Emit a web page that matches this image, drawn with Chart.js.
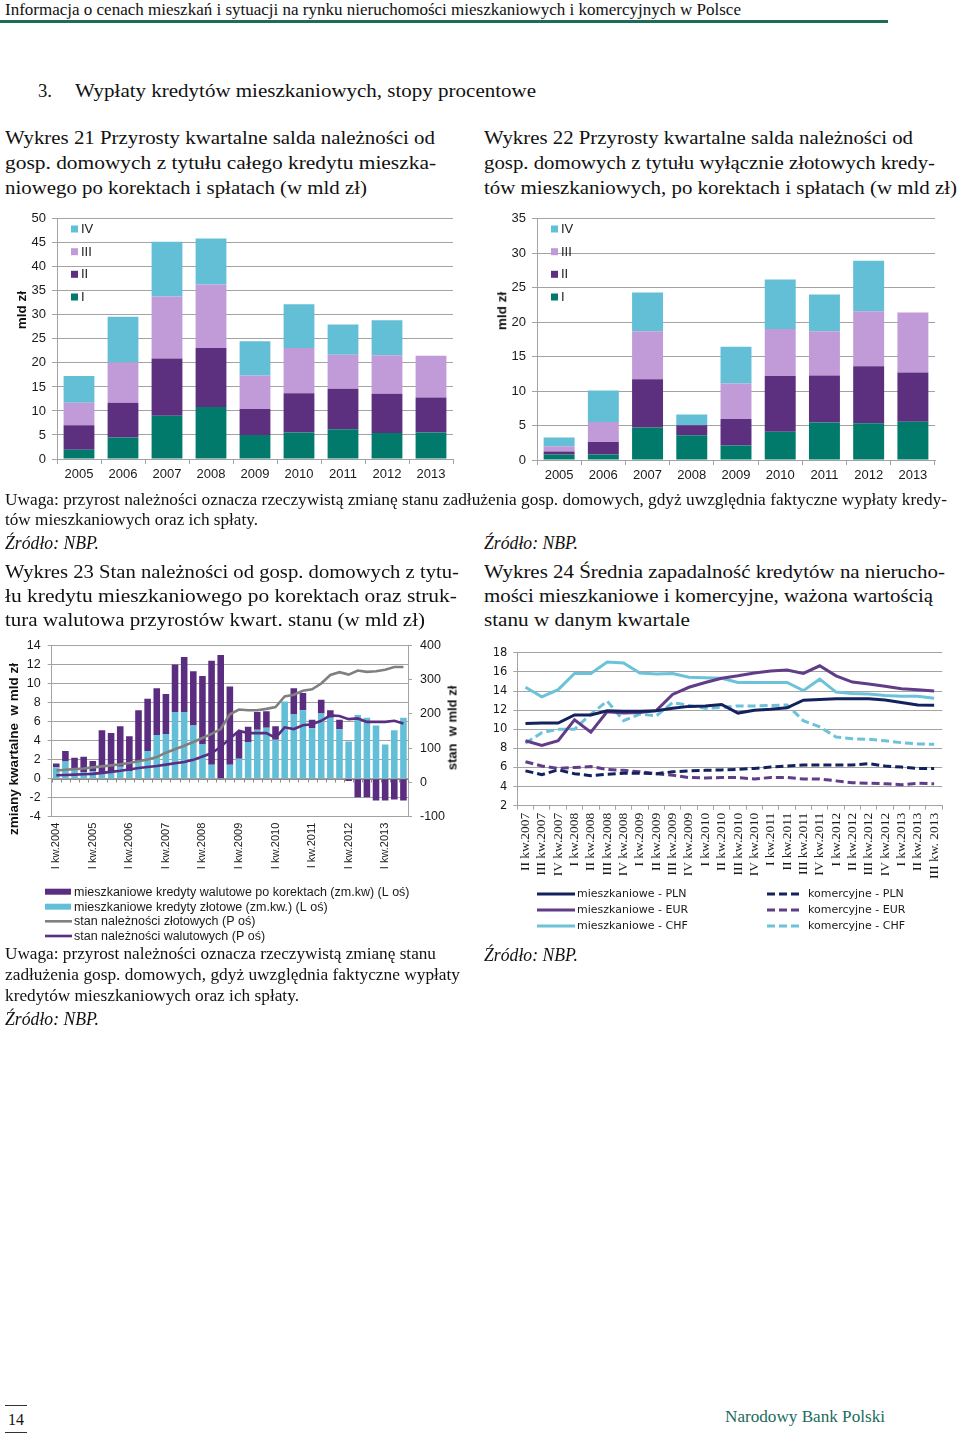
<!DOCTYPE html>
<html lang="pl"><head><meta charset="utf-8">
<title>Wykresy 21-24</title>
<script src="https://cdn.jsdelivr.net/npm/chart.js@4.4.1/dist/chart.umd.min.js"></script>
<style>
html,body{margin:0;padding:0;background:#fff}
body{position:relative;width:960px;height:1434px;overflow:hidden;font-family:"Liberation Serif","Times New Roman",serif;color:#111}
.t{position:absolute;white-space:nowrap;line-height:1;transform-origin:0 0}
.ax{position:absolute;white-space:nowrap;font-family:"Liberation Sans",Arial,sans-serif;font-weight:bold;color:#111;line-height:1;transform:translate(-50%,-50%) rotate(-90deg)}
canvas{position:absolute}
.rule{position:absolute;background:#1e6b5a}
</style></head>
<body>
<div class="rule" style="left:0;top:20px;width:888px;height:3px"></div>
<div class="rule" style="left:5px;top:1405px;width:22px;height:1px;background:#333"></div>
<div class="rule" style="left:5px;top:1432px;width:22px;height:1px;background:#333"></div>
<canvas id="c21" width="480" height="285" style="left:0;top:205px;width:480px;height:285px"></canvas>
<canvas id="c22" width="480" height="285" style="left:480px;top:205px;width:480px;height:285px"></canvas>
<canvas id="c23" width="460" height="320" style="left:0;top:630px;width:460px;height:320px"></canvas>
<canvas id="c24" width="480" height="300" style="left:480px;top:640px;width:480px;height:300px"></canvas>
<div class="ax" style="left:22px;top:310px;font-size:13.5px">mld zł</div>
<div class="ax" style="left:502px;top:311px;font-size:13.5px">mld zł</div>
<div class="ax" style="left:14px;top:749px;font-size:13.5px">zmiany kwartalne&nbsp; w mld zł</div>
<div class="ax" style="left:452px;top:728px;font-size:13px">stan&nbsp; w mld zł</div>
<script>
// ---------- DATA ----------
const years = ['2005','2006','2007','2008','2009','2010','2011','2012','2013'];
// Wykres 21 (whole mortgage credit), quarters I-IV, mld zł
const w21_I   = [1.9, 4.5, 9.0, 10.8, 5.0, 5.5, 6.2, 5.4, 5.5];
const w21_II  = [5.1, 7.2, 11.9, 12.3, 5.4, 8.2, 8.4, 8.2, 7.3];
const w21_III = [4.7, 8.4, 12.9, 13.2, 7.0, 9.4, 7.1, 8.0, 8.7];
const w21_IV  = [5.6, 9.5, 11.4, 9.6, 7.1, 9.1, 6.3, 7.3, null];
// Wykres 22 (PLN only)
const w22_I   = [0.8, 0.8, 4.7, 3.6, 2.1, 4.1, 5.45, 5.35, 5.55];
const w22_II  = [0.45, 1.8, 7.0, 1.45, 3.85, 8.1, 6.8, 8.25, 7.15];
const w22_III = [0.75, 2.9, 7.0, 0.0, 5.15, 6.8, 6.45, 8.0, 8.7];
const w22_IV  = [1.25, 4.6, 5.6, 1.55, 5.35, 7.2, 5.3, 7.3, null];
// Wykres 23
const quarters23 = [
 'I kw.2004','II kw.2004','III kw.2004','IV kw.2004',
 'I kw.2005','II kw.2005','III kw.2005','IV kw.2005',
 'I kw.2006','II kw.2006','III kw.2006','IV kw.2006',
 'I kw.2007','II kw.2007','III kw.2007','IV kw.2007',
 'I kw.2008','II kw.2008','III kw.2008','IV kw.2008',
 'I kw.2009','II kw.2009','III kw.2009','IV kw.2009',
 'I kw.2010','II kw.2010','III kw.2010','IV kw.2010',
 'I kw.2011','II kw.2011','III kw.2011','IV kw.2011',
 'I kw.2012','II kw.2012','III kw.2012','IV kw.2012',
 'I kw.2013','II kw.2013','III kw.2013'];
const w23_zmPLN = [1.2,1.8,1.0,0.7, 0.8,0.45,0.75,1.25, 0.8,1.8,2.9,4.6, 4.7,7.0,7.0,5.6,
                   3.6,1.45,0.0,1.45, 2.1,3.85,5.15,5.35, 4.1,8.1,6.8,7.2, 5.3,6.85,6.4,5.2,
                   3.9,6.7,6.4,5.6, 3.6,5.1,6.4];
const w23_zmFX  = [0.4,1.1,1.2,1.6, 1.05,4.65,4.05,4.25, 3.65,5.4,5.5,4.9, 4.2,5.0,5.8,5.7,
                   7.2,10.95,13.0,8.25, 2.8,1.6,1.85,1.75, 1.4,0.0,2.7,1.8, 0.9,1.45,0.8,1.0,
                   -0.25,-1.95,-1.95,-2.3, -2.3,-2.2,-2.3];
const w23_stanPLN = [35,37,39,41, 44,47,50,53, 57,62,67,74, 87,97,107,118,
                     130,142,156,199, 213,211,211,215, 220,251,256,268, 272,289,314,322,
                     315,327,323,325, 329,337,337];
const w23_stanFX  = [21,22,23,24, 25,28,31,34, 38,42,45,48, 52,56,60,66,
                     76,85,104,128, 151,144,144,144, 130,161,156,167, 170,180,196,194,
                     185,187,177,177, 177,180,172];
const ticks23L = {min:-4, max:14, step:2};
const ticks23R = {min:-100, max:400, step:100};
// Wykres 24
const quarters24 = ['II kw.2007','III kw.2007','IV kw.2007',
 'I kw.2008','II kw.2008','III kw.2008','IV kw.2008',
 'I kw.2009','II kw.2009','III kw.2009','IV kw.2009',
 'I kw.2010','II kw.2010','III kw.2010','IV kw.2010',
 'I kw.2011','II kw.2011','III kw.2011','IV kw.2011',
 'I kw.2012','II kw.2012','III kw.2012','IV kw.2012',
 'I kw.2013','II kw.2013','III kw. 2013'];
const m_PLN = [10.6,10.65,10.65,11.5,11.5,11.95,11.9,11.9,11.95,12.2,12.4,12.45,12.6,11.7,12.0,12.1,12.25,13.05,13.13,13.2,13.2,13.2,13.06,12.8,12.55,12.52];
const m_EUR = [8.8,8.3,8.8,11.0,9.7,11.85,11.7,11.75,11.95,13.65,14.4,14.9,15.35,15.6,15.9,16.1,16.2,15.85,16.65,15.6,14.95,14.75,14.5,14.25,14.15,14.0];
const m_CHF = [14.4,13.4,14.15,15.85,15.85,17.05,16.95,15.9,15.8,15.85,15.45,15.4,15.35,14.9,14.9,14.9,14.9,14.05,15.25,13.9,13.75,13.7,13.55,13.45,13.45,13.25];
const k_PLN = [5.65,5.25,5.75,5.35,5.15,5.3,5.4,5.4,5.35,5.55,5.65,5.7,5.75,5.8,5.9,6.05,6.15,6.25,6.25,6.25,6.25,6.4,6.15,6.05,5.9,5.9];
const k_EUR = [6.6,6.15,5.9,6.0,6.1,5.8,5.7,5.55,5.35,5.2,4.95,4.9,4.95,4.95,4.8,4.95,4.95,4.8,4.8,4.6,4.4,4.35,4.3,4.2,4.35,4.3];
const k_CHF = [8.55,9.65,10.0,10.0,11.6,12.95,10.9,11.6,11.4,12.8,12.5,12.2,12.3,12.45,12.45,12.5,12.55,10.9,10.25,9.2,9.0,8.95,8.8,8.6,8.47,8.43];

// ---------- PAGE TEXT ----------
const TEAL_TXT = '#1c6b5d';
const texts = [
 ['Informacja o cenach mieszkań i sytuacji na rynku nieruchomości mieszkaniowych i komercyjnych w Polsce',5,10,741,17,''],
 ['3.',38,91,52,19,''],
 ['Wypłaty kredytów mieszkaniowych, stopy procentowe',75,91,536,19,''],
 ['Wykres 21 Przyrosty kwartalne salda należności od',5,138,435,19,''],
 ['gosp. domowych z tytułu całego kredytu mieszka-',5,163,436,19,''],
 ['niowego po korektach i spłatach (w mld zł)',5,188,367,19,''],
 ['Wykres 22 Przyrosty kwartalne salda należności od',484,138,913,19,''],
 ['gosp. domowych z tytułu wyłącznie złotowych kredy-',484,163,935,19,''],
 ['tów mieszkaniowych, po korektach i spłatach (w mld zł)',484,188,957,19,''],
 ['Uwaga: przyrost należności oznacza rzeczywistą zmianę stanu zadłużenia gosp. domowych, gdyż uwzględnia faktyczne wypłaty kredy-',5,500,947,16,''],
 ['tów mieszkaniowych oraz ich spłaty.',5,520,258,16,''],
 ['Źródło: NBP.',5,543,99,18,'i'],
 ['Źródło: NBP.',484,543,578,18,'i'],
 ['Wykres 23 Stan należności od gosp. domowych z tytu-',5,572,459,19,''],
 ['łu kredytu mieszkaniowego po korektach oraz struk-',5,596,457,19,''],
 ['tura walutowa przyrostów kwart. stanu (w mld zł)',5,620,425,19,''],
 ['Wykres 24 Średnia zapadalność kredytów na nierucho-',484,572,945,19,''],
 ['mości mieszkaniowe i komercyjne, ważona wartością',484,596,933,19,''],
 ['stanu w danym kwartale',484,620,690,19,''],
 ['Uwaga: przyrost należności oznacza rzeczywistą zmianę stanu',5,954,436,17,''],
 ['zadłużenia gosp. domowych, gdyż uwzględnia faktyczne wypłaty',5,975,460,17,''],
 ['kredytów mieszkaniowych oraz ich spłaty.',5,996,299,17,''],
 ['Źródło: NBP.',5,1019,99,18,'i'],
 ['Źródło: NBP.',484,955,578,18,'i'],
 ['14',8,1420,24,17,''],
 ['Narodowy Bank Polski',725,1417,885,17,'g']
];
texts.forEach(([s,x,y,r,fs,st])=>{
  const d=document.createElement('div');
  d.className='t'; d.textContent=s;
  d.style.left=x+'px'; d.style.top=(y-fs*0.51)+'px'; d.style.fontSize=fs+'px';
  if(st==='i') d.style.fontStyle='italic';
  if(st==='g') d.style.color=TEAL_TXT;
  document.body.appendChild(d);
  const w=d.getBoundingClientRect().width;
  if(w>0) d.style.transform='scaleX('+((r-x)/w).toFixed(4)+')';
});

// ---------- CHARTS ----------
Chart.defaults.font.family='"Liberation Sans", Arial, sans-serif';
Chart.defaults.color='#1a1a1a';
const GRID='#a3a3a3';
const C_TEAL='#017a6c', C_PURP='#5d2f7f', C_LILAC='#c09bd7', C_SKY='#62bfd6';

const customLegend={
  id:'customLegend',
  afterDraw(chart,args,o){
    if(!o||!o.rows) return;
    const ctx=chart.ctx; ctx.save();
    ctx.font=o.font; ctx.textBaseline='middle'; ctx.textAlign='left';
    o.rows.forEach(r=>{
      const ds=chart.data.datasets[r.ds];
      if(r.shape==='box'){ ctx.fillStyle=ds.backgroundColor; ctx.fillRect(r.x,r.y-r.h/2,r.w,r.h); }
      else { ctx.strokeStyle=ds.borderColor; ctx.lineWidth=r.lw; ctx.setLineDash(ds.borderDash||[]);
        ctx.beginPath(); ctx.moveTo(r.x,r.y); ctx.lineTo(r.x+r.w,r.y); ctx.stroke(); ctx.setLineDash([]); }
      ctx.fillStyle=o.color||'#1a1a1a';
      ctx.fillText(ds.label,r.tx,r.y+0.5);
    });
    ctx.restore();
  }
};
const zeroAxis={
  id:'zeroAxis',
  beforeDatasetsDraw(chart,args,o){
    if(!o||!o.on) return;
    const ctx=chart.ctx, xs=chart.scales.x, a=chart.chartArea;
    const y=Math.round(chart.scales.y.getPixelForValue(0))+0.5;
    ctx.save(); ctx.strokeStyle=o.color; ctx.lineWidth=1; ctx.beginPath();
    ctx.moveTo(a.left,y); ctx.lineTo(a.right,y);
    const n=chart.data.labels.length;
    for(let i=0;i<=n;i++){
      const x=Math.round(i===0?a.left:(i===n?a.right:(xs.getPixelForValue(i-1)+xs.getPixelForValue(i))/2))+0.5;
      ctx.moveTo(x,y); ctx.lineTo(x,y+3);
    }
    ctx.stroke(); ctx.restore();
  }
};

function quarterBars(id, I, II, III, IV, ymax, padRight, xH){
  return new Chart(document.getElementById(id),{
    type:'bar',
    data:{labels:years,datasets:[
      {label:'I',data:I,backgroundColor:C_TEAL},
      {label:'II',data:II,backgroundColor:C_PURP},
      {label:'III',data:III,backgroundColor:C_LILAC},
      {label:'IV',data:IV,backgroundColor:C_SKY}
    ]},
    options:{
      responsive:false,animation:false,devicePixelRatio:1,
      layout:{padding:{top:12.7,right:padRight,left:0,bottom:0}},
      datasets:{bar:{barPercentage:0.7,categoryPercentage:1}},
      plugins:{legend:{display:false},tooltip:{enabled:false},
        customLegend:{font:'13px "Liberation Sans", Arial, sans-serif',rows:[
          {ds:3,shape:'box',x:71,y:24,w:7,h:7,tx:81},
          {ds:2,shape:'box',x:71,y:46.7,w:7,h:7,tx:81},
          {ds:1,shape:'box',x:71,y:69.3,w:7,h:7,tx:81},
          {ds:0,shape:'box',x:71,y:92,w:7,h:7,tx:81}]}},
      scales:{
        x:{stacked:true,offset:true,grid:{offset:true,drawOnChartArea:false,tickLength:5,color:GRID},
           border:{color:GRID},ticks:{font:{size:13},padding:3,color:'#1a1a1a'},
           afterFit:s=>{s.height=xH;}},
        y:{stacked:true,min:0,max:ymax,ticks:{stepSize:5,font:{size:13},padding:6,color:'#1a1a1a'},
           grid:{color:GRID,tickLength:5},border:{color:GRID},afterFit:s=>{s.width=57;}}
      }
    },
    plugins:[customLegend]
  });
}
quarterBars('c21',w21_I,w21_II,w21_III,w21_IV,50,27,31);
quarterBars('c22',w22_I,w22_II,w22_III,w22_IV,35,25,30);

new Chart(document.getElementById('c23'),{
  type:'bar',
  data:{labels:quarters23,datasets:[
    {type:'line',label:'stan należności złotowych (P oś)',data:w23_stanPLN,borderColor:'#808080',borderWidth:2.6,pointRadius:0,yAxisID:'y1',order:0},
    {type:'line',label:'stan należności walutowych (P oś)',data:w23_stanFX,borderColor:'#5b2d82',borderWidth:2.6,pointRadius:0,yAxisID:'y1',order:0},
    {type:'bar',label:'mieszkaniowe kredyty walutowe po korektach (zm.kw) (L oś)',data:w23_zmFX,backgroundColor:'#5b2d80',yAxisID:'y',order:2},
    {type:'bar',label:'mieszkaniowe kredyty złotowe (zm.kw.) (L oś)',data:w23_zmPLN,backgroundColor:'#63bfd8',yAxisID:'y',order:1}
  ]},
  options:{
    responsive:false,animation:false,devicePixelRatio:1,
    layout:{padding:{top:11,right:0,left:0,bottom:0}},
    datasets:{bar:{barPercentage:0.72,categoryPercentage:1}},
    plugins:{legend:{display:false},tooltip:{enabled:false},
      zeroAxis:{on:true,color:'#8a8a8a'},
      customLegend:{font:'12.5px "Liberation Sans", Arial, sans-serif',rows:[
        {ds:2,shape:'box',x:45,y:261.7,w:26,h:6,tx:74},
        {ds:3,shape:'box',x:45,y:276.7,w:26,h:6,tx:74},
        {ds:0,shape:'line',x:45,y:291.3,w:27,lw:2.6,tx:74},
        {ds:1,shape:'line',x:45,y:306,w:27,lw:2.6,tx:74}]}},
    scales:{
      x:{stacked:true,offset:true,grid:{offset:true,display:false,drawTicks:false},border:{display:false},
         ticks:{autoSkip:false,minRotation:90,maxRotation:90,font:{size:11},padding:6,color:'#1a1a1a',
           callback:function(v){const l=this.getLabelForValue(v);return l.startsWith('I kw.')?l:'';}},
         afterFit:s=>{s.height=133.3;}},
      y:{stacked:true,position:'left',min:ticks23L.min,max:ticks23L.max,
         ticks:{stepSize:ticks23L.step,font:{size:12.5},padding:7,color:'#1a1a1a'},
         grid:{color:GRID,tickLength:4},border:{color:GRID},afterFit:s=>{s.width=51.7;}},
      y1:{position:'right',min:ticks23R.min,max:ticks23R.max,
         ticks:{stepSize:ticks23R.step,font:{size:12.5},padding:8,color:'#1a1a1a'},
         grid:{drawOnChartArea:false,color:GRID,tickLength:4},border:{color:GRID},afterFit:s=>{s.width=52;}}
    }
  },
  plugins:[customLegend,zeroAxis]
});

const NAVY='#13225c', VIOL='#613c88', SKY2='#6cc2d8';
new Chart(document.getElementById('c24'),{
  type:'line',
  data:{labels:quarters24,datasets:[
    {label:'mieszkaniowe - PLN',data:m_PLN,borderColor:NAVY},
    {label:'mieszkaniowe - EUR',data:m_EUR,borderColor:VIOL},
    {label:'mieszkaniowe - CHF',data:m_CHF,borderColor:SKY2},
    {label:'komercyjne - PLN',data:k_PLN,borderColor:NAVY,borderDash:[8,4]},
    {label:'komercyjne - EUR',data:k_EUR,borderColor:VIOL,borderDash:[8,4]},
    {label:'komercyjne - CHF',data:k_CHF,borderColor:SKY2,borderDash:[8,4]}
  ]},
  options:{
    responsive:false,animation:false,devicePixelRatio:1,
    layout:{padding:{top:9,right:17.7,left:0,bottom:0}},
    elements:{line:{borderWidth:3,tension:0},point:{radius:0}},
    plugins:{legend:{display:false},tooltip:{enabled:false},
      customLegend:{font:'11px "DejaVu Sans", Verdana, sans-serif',rows:[
        {ds:0,shape:'line',x:57,y:254,w:38,lw:3,tx:97},
        {ds:1,shape:'line',x:57,y:270,w:38,lw:3,tx:97},
        {ds:2,shape:'line',x:57,y:286,w:38,lw:3,tx:97},
        {ds:3,shape:'line',x:287,y:254,w:34,lw:3,tx:328},
        {ds:4,shape:'line',x:287,y:270,w:34,lw:3,tx:328},
        {ds:5,shape:'line',x:287,y:286,w:34,lw:3,tx:328}]}},
    scales:{
      x:{offset:true,grid:{offset:true,drawOnChartArea:false,tickLength:4,color:GRID},border:{color:GRID},
         ticks:{autoSkip:false,minRotation:90,maxRotation:90,padding:3,color:'#1a1a1a',
           font:{family:'"Liberation Serif", "Times New Roman", serif',size:13.5}},
         afterFit:s=>{s.height=134.3;}},
      y:{min:2,max:18,ticks:{stepSize:2,padding:6,color:'#1a1a1a',font:{family:'"DejaVu Sans", Verdana, sans-serif',size:11.5}},
         grid:{color:GRID,tickLength:4},border:{color:GRID},afterFit:s=>{s.width=37.3;}}
    }
  },
  plugins:[customLegend]
});
</script>
</body></html>
